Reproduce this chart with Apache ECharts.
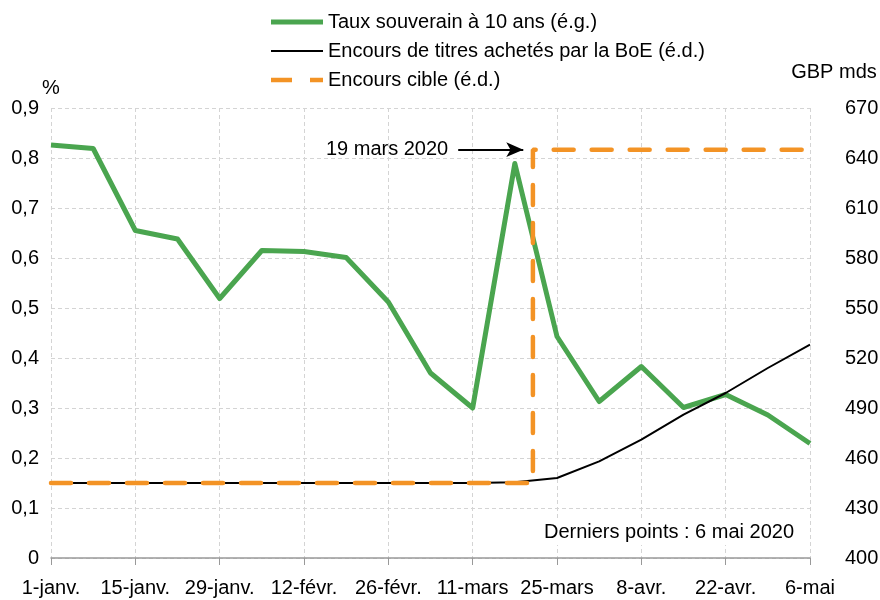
<!DOCTYPE html>
<html>
<head>
<meta charset="utf-8">
<script src="https://cdn.jsdelivr.net/npm/echarts@6/dist/echarts.min.js"></script>
<style>
  html, body { margin: 0; padding: 0; background: #fff; }
  #chart { width: 880px; height: 600px; }
</style>
</head>
<body>
<div id="chart"></div>
<script>
// étiquettes de l'axe des x (tous les 14 jours depuis le 1er janvier 2020)
const tickLabels = ['1-janv.', '15-janv.', '29-janv.', '12-févr.', '26-févr.', '11-mars', '25-mars', '8-avr.', '22-avr.', '6-mai'];
// jours depuis le 1er janvier (points hebdomadaires, le mercredi)
const pointDays = [0, 7, 14, 21, 28, 35, 42, 49, 56, 63, 70, 77, 84, 91, 98, 105, 112, 119, 126];
// taux souverain à 10 ans, % (éch. gauche)
const taux = [0.826, 0.819, 0.655, 0.638, 0.519, 0.615, 0.613, 0.601, 0.512, 0.370, 0.300, 0.789, 0.443, 0.313, 0.383, 0.301, 0.327, 0.286, 0.229];
// encours de titres achetés par la BoE, GBP mds (éch. droite)
const encours = [445, 445, 445, 445, 445, 445, 445, 445, 445, 445, 445, 445.5, 448, 458, 471, 486, 499, 514, 528];
// encours cible, GBP mds (éch. droite)
const cibleDays = [0, 80, 80, 126];
const cible = [445, 445, 645, 645];
// flèche d'annotation (jours, niveau)
const annotDays = [67.6, 78.4];
const annotLevel = 645;

const FONT = "'Liberation Sans', Arial, sans-serif";
const FS = 20;
const GREEN = '#4aa54f';
const ORANGE = '#f39325';

function pairs(xs, ys) {
  return xs.map((x, i) => [x, ys[i]]);
}

const chart = echarts.init(document.getElementById('chart'), null, { renderer: 'canvas' });

const option = {
  animation: false,
  backgroundColor: '#fff',
  textStyle: { fontFamily: FONT, color: '#000' },
  legend: {
    orient: 'vertical',
    left: 266,
    top: 7,
    itemWidth: 52,
    itemHeight: 14,
    itemGap: 9,
    textStyle: { fontFamily: FONT, fontSize: FS, color: '#000' },
    data: [
      { name: 'Taux souverain à 10 ans (é.g.)', icon: 'path://M0,0H52V5H0Z' },
      { name: 'Encours de titres achetés par la BoE (é.d.)', icon: 'path://M0,0H52V2H0Z' },
      { name: 'Encours cible (é.d.)', icon: 'path://M0,0H21V4.5H0ZM39,0H52V4.5H39Z' },
    ],
  },
  grid: {
    left: 51,
    right: 70,
    top: 108,
    bottom: 42,
    containLabel: false,
    outerBoundsMode: 'none',
  },
  xAxis: {
    type: 'value',
    min: 0,
    max: 126,
    interval: 14,
    axisLine: { show: true, lineStyle: { color: '#999', width: 1.5 } },
    axisTick: { show: true, length: 7, lineStyle: { color: '#999' } },
    axisLabel: {
      margin: 20,
      fontSize: FS,
      fontFamily: FONT,
      color: '#000',
      showMinLabel: true,
      showMaxLabel: true,
      formatter: (v) => tickLabels[Math.round(v / 14)] || '',
    },
    splitLine: { show: true, lineStyle: { color: '#d4d4d4', type: [4, 3], width: 1 } },
  },
  yAxis: [
    {
      type: 'value',
      min: 0,
      max: 0.9,
      interval: 0.1,
      name: '%',
      nameLocation: 'end',
      nameGap: 9,
      nameTextStyle: { fontSize: FS, fontFamily: FONT, color: '#000' },
      axisLine: { show: false },
      axisTick: { show: false },
      axisLabel: {
        margin: 12,
        fontSize: FS,
        fontFamily: FONT,
        color: '#000',
        formatter: (v) => {
          const r = Math.round(v * 10) / 10;
          return r === 0 ? '0' : r.toFixed(1).replace('.', ',');
        },
      },
      splitLine: { show: true, lineStyle: { color: '#d4d4d4', type: [4, 3], width: 1 } },
    },
    {
      type: 'value',
      min: 400,
      max: 670,
      interval: 30,
      position: 'right',
      axisLine: { show: false },
      axisTick: { show: false },
      axisLabel: { margin: 35, fontSize: FS, fontFamily: FONT, color: '#000' },
      splitLine: { show: false },
    },
  ],
  graphic: [
    {
      type: 'text',
      x: 834,
      y: 72,
      style: {
        text: 'GBP mds',
        font: FS + 'px ' + FONT,
        fill: '#000',
        align: 'center',
        verticalAlign: 'middle',
      },
    },
    {
      type: 'text',
      x: 669,
      y: 532,
      z: 10,
      style: {
        text: 'Derniers points : 6 mai 2020',
        font: FS + 'px ' + FONT,
        fill: '#000',
        align: 'center',
        verticalAlign: 'middle',
        backgroundColor: '#fff',
        padding: [3, 4],
      },
    },
  ],
  series: [
    {
      name: 'Taux souverain à 10 ans (é.g.)',
      type: 'line',
      yAxisIndex: 0,
      symbol: 'none',
      z: 2,
      lineStyle: { color: GREEN, width: 5, join: 'round' },
      itemStyle: { color: GREEN },
      data: pairs(pointDays, taux),
    },
    {
      name: 'Encours de titres achetés par la BoE (é.d.)',
      type: 'line',
      yAxisIndex: 1,
      symbol: 'none',
      z: 3,
      lineStyle: { color: '#000', width: 2 },
      itemStyle: { color: '#000' },
      data: pairs(pointDays, encours),
    },
    {
      name: 'Encours cible (é.d.)',
      type: 'line',
      yAxisIndex: 1,
      symbol: 'none',
      z: 4,
      lineStyle: { color: ORANGE, width: 4.5, type: [20, 18], cap: 'round' },
      itemStyle: { color: ORANGE },
      data: pairs(cibleDays, cible),
      markLine: {
        silent: true,
        symbol: ['none', 'arrow'],
        symbolSize: [11, 17],
        lineStyle: { color: '#000', width: 2, type: 'solid' },
        label: {
          show: true,
          position: 'start',
          distance: 10,
          formatter: '19 mars 2020',
          fontSize: FS,
          fontFamily: FONT,
          color: '#000',
        },
        data: [
          [
            { coord: [annotDays[0], annotLevel] },
            { coord: [annotDays[1], annotLevel] },
          ],
        ],
      },
    },
  ],
};

chart.setOption(option);
</script>
</body>
</html>
